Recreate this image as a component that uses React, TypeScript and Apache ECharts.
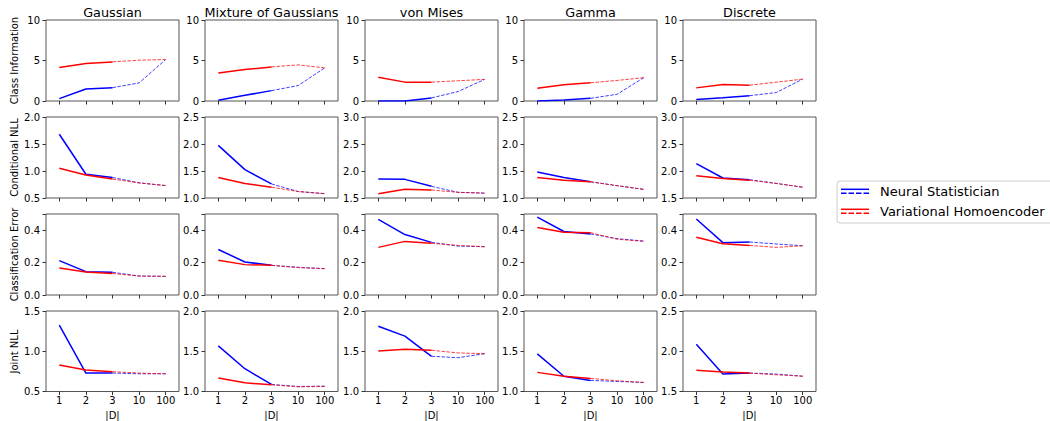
import React, { useEffect, useRef } from "react";
import * as echarts from "echarts";

const CATS = ["1", "2", "3", "10", "100"];
const TITLES = ["Gaussian", "Mixture of Gaussians", "von Mises", "Gamma", "Discrete"];
const ROW_LABELS = ["Class Information", "Conditional NLL", "Classification Error", "Joint NLL"];
const X_NAME = "|D|";
const LEGEND_NAMES = ["Neural Statistician", "Variational Homoencoder"];

// Class information
const classInfoNS = [
  [0.29, 1.49, 1.65, 2.23, 5.12],
  [0.08, 0.7, 1.28, 1.9, 4.09],
  [0.0, 0.0, 0.38, 1.17, 2.67],
  [0.0, 0.13, 0.33, 0.83, 2.88],
  [0.17, 0.41, 0.66, 1.04, 2.7],
];
const classInfoVHE = [
  [4.13, 4.63, 4.83, 5.04, 5.12],
  [3.47, 3.88, 4.21, 4.46, 4.09],
  [2.92, 2.33, 2.33, 2.5, 2.67],
  [1.58, 2.0, 2.25, 2.54, 2.88],
  [1.62, 2.03, 1.95, 2.32, 2.7],
];
// Conditional NLL
const condNllNS = [
  [1.68, 0.94, 0.88, 0.78, 0.73],
  [1.975, 1.525, 1.26, 1.12, 1.08],
  [1.85, 1.845, 1.716, 1.605, 1.59],
  [1.48, 1.38, 1.3, 1.228, 1.16],
  [2.136, 1.87, 1.84, 1.77, 1.7],
];
const condNllVHE = [
  [1.05, 0.926, 0.85, 0.78, 0.73],
  [1.38, 1.27, 1.2, 1.12, 1.08],
  [1.58, 1.66, 1.648, 1.605, 1.59],
  [1.38, 1.327, 1.3, 1.228, 1.16],
  [1.91, 1.86, 1.83, 1.77, 1.7],
];
// Classification error
const classErrNS = [
  [0.2125, 0.144, 0.14, 0.117, 0.115],
  [0.281, 0.204, 0.183, 0.171, 0.1625],
  [0.467, 0.373, 0.325, 0.302, 0.298],
  [0.481, 0.392, 0.377, 0.348, 0.333],
  [0.469, 0.323, 0.327, 0.315, 0.304],
];
const classErrVHE = [
  [0.167, 0.142, 0.133, 0.117, 0.115],
  [0.215, 0.1875, 0.183, 0.169, 0.1625],
  [0.294, 0.331, 0.319, 0.306, 0.298],
  [0.417, 0.3875, 0.385, 0.344, 0.331],
  [0.356, 0.317, 0.306, 0.294, 0.304],
];
// Joint NLL
const jointNllNS = [
  [1.325, 0.729, 0.729, 0.72, 0.72],
  [1.567, 1.283, 1.0875, 1.0625, 1.067],
  [1.81, 1.6875, 1.4375, 1.42, 1.47],
  [1.467, 1.19, 1.1375, 1.125, 1.1125],
  [2.0875, 1.717, 1.729, 1.717, 1.69],
];
const jointNllVHE = [
  [0.83, 0.767, 0.746, 0.729, 0.72],
  [1.167, 1.108, 1.083, 1.058, 1.0625],
  [1.504, 1.525, 1.5125, 1.479, 1.47],
  [1.2375, 1.19, 1.1625, 1.133, 1.1125],
  [1.7625, 1.742, 1.729, 1.708, 1.69],
];

// y-axis ranges per row / column
const row1Min = [0, 0, 0, 0, 0];
const row2Min = [0.5, 1.0, 1.5, 1.0, 1.5];
const row3Min = [0, 0, 0, 0, 0];
const row4Min = [0.5, 1.0, 1.0, 1.0, 1.5];
const ROW_MINS = [row1Min, row2Min, row3Min, row4Min];
const ROW_SPANS = [10, 1.5, 0.5, 1.0];
const ROW_INTERVALS = [5, 0.5, 0.2, 0.5];

const NS_DATA = [classInfoNS, condNllNS, classErrNS, jointNllNS];
const VHE_DATA = [classInfoVHE, condNllVHE, classErrVHE, jointNllVHE];

const BLUE = "#0000ff";
const RED = "#ff0000";
const FONT = "DejaVu Sans";

const COL_LEFTS = [46, 205, 365, 524, 683];
const ROW_TOPS = [20, 117, 214, 311];
const GW = 133;
const GH = 81;

function buildOption() {
  const grid: any[] = [];
  const xAxis: any[] = [];
  const yAxis: any[] = [];
  const series: any[] = [];
  const graphic: any[] = [];

  for (let r = 0; r < 4; r++) {
    for (let c = 0; c < 5; c++) {
      const idx = r * 5 + c;
      grid.push({
        left: COL_LEFTS[c],
        top: ROW_TOPS[r],
        width: GW,
        height: GH,
        show: true,
        borderColor: "#555",
        borderWidth: 1,
        backgroundColor: "transparent",
      });
      const isBottom = r === 3;
      xAxis.push({
        type: "category",
        gridIndex: idx,
        data: CATS,
        boundaryGap: true,
        axisLine: { show: false },
        axisTick: { show: true, alignWithLabel: true, length: 3.5, lineStyle: { color: "#333" } },
        axisLabel: { show: isBottom, fontSize: 10, color: "#000", fontFamily: FONT, margin: 3.5 },
        splitLine: { show: false },
        name: isBottom ? X_NAME : "",
        nameLocation: "middle",
        nameGap: 18.5,
        nameTextStyle: { fontSize: 10, color: "#000", fontFamily: FONT },
      });
      const min = ROW_MINS[r][c];
      const max = min + ROW_SPANS[r];
      const interval = ROW_INTERVALS[r];
      yAxis.push({
        type: "value",
        gridIndex: idx,
        min,
        max,
        interval,
        axisLine: { show: false },
        axisTick: { show: true, length: 3.5, lineStyle: { color: "#333" } },
        splitLine: { show: false },
        axisLabel: {
          fontSize: 10,
          color: "#000",
          fontFamily: FONT,
          margin: 6,
          formatter: (v: number) => {
            const k = v / interval;
            if (Math.abs(k - Math.round(k)) > 1e-6) return "";
            if (v > max - 1e-9 && r === 2) return "";
            return r === 0 ? String(Math.round(v)) : v.toFixed(1);
          },
        },
      });
      const groups = [
        { data: NS_DATA[r][c], color: BLUE, name: LEGEND_NAMES[0] },
        { data: VHE_DATA[r][c], color: RED, name: LEGEND_NAMES[1] },
      ];
      for (const g of groups) {
        const solid = g.data.map((v, i) => (i <= 2 ? v : null));
        const dashed = g.data.map((v, i) => (i >= 2 ? v : null));
        series.push({
          type: "line",
          name: g.name,
          xAxisIndex: idx,
          yAxisIndex: idx,
          data: solid,
          symbol: "none",
          connectNulls: false,
          lineStyle: { color: g.color, width: 1.5 },
          itemStyle: { color: g.color },
          silent: true,
        });
        series.push({
          type: "line",
          name: g.name,
          xAxisIndex: idx,
          yAxisIndex: idx,
          data: dashed,
          symbol: "none",
          connectNulls: false,
          lineStyle: { color: g.color, width: 1, type: [3.5, 1.5], opacity: 0.75 },
          itemStyle: { color: g.color },
          silent: true,
        });
      }
    }
  }

  // Column titles
  TITLES.forEach((t, c) => {
    graphic.push({
      type: "text",
      x: COL_LEFTS[c] + GW / 2,
      y: 12,
      style: { text: t, fontSize: 12.8, fontFamily: FONT, fill: "#000", align: "center", verticalAlign: "middle" },
    });
  });
  // Row labels
  ROW_LABELS.forEach((t, r) => {
    graphic.push({
      type: "text",
      x: 14,
      y: ROW_TOPS[r] + GH / 2,
      rotation: Math.PI / 2,
      style: { text: t, fontSize: 10, fontFamily: FONT, fill: "#000", align: "center", verticalAlign: "middle" },
    });
  });
  // Legend
  graphic.push({
    type: "rect",
    shape: { x: 837, y: 181, width: 240, height: 42, r: 3 },
    style: { fill: "rgba(255,255,255,0.8)", stroke: "#ccc", lineWidth: 1 },
  });
  const legendColors = [BLUE, RED];
  LEGEND_NAMES.forEach((n, i) => {
    const cy = 191 + i * 20;
    graphic.push({
      type: "line",
      shape: { x1: 841, y1: cy - 1.7, x2: 869, y2: cy - 1.7 },
      style: { stroke: legendColors[i], lineWidth: 1.5 },
    });
    graphic.push({
      type: "line",
      shape: { x1: 841, y1: cy + 2.3, x2: 869, y2: cy + 2.3 },
      style: { stroke: legendColors[i], lineWidth: 1.5, lineDash: [5.5, 2] },
    });
    graphic.push({
      type: "text",
      x: 880,
      y: cy + 0.5,
      style: { text: n, fontSize: 13, fontFamily: FONT, fill: "#000", align: "left", verticalAlign: "middle" },
    });
  });

  return {
    animation: false,
    backgroundColor: "#ffffff",
    textStyle: { fontFamily: FONT },
    grid,
    xAxis,
    yAxis,
    series,
    graphic,
  };
}

export default function App() {
  const ref = useRef<HTMLDivElement>(null);
  useEffect(() => {
    if (!ref.current) return;
    const chart = echarts.init(ref.current, null, { renderer: "svg" });
    chart.setOption(buildOption() as any);
    return () => chart.dispose();
  }, []);
  return (
    <div
      ref={ref}
      style={{ position: "absolute", left: 0, top: 0, width: 1050, height: 421, background: "#fff" }}
    />
  );
}
